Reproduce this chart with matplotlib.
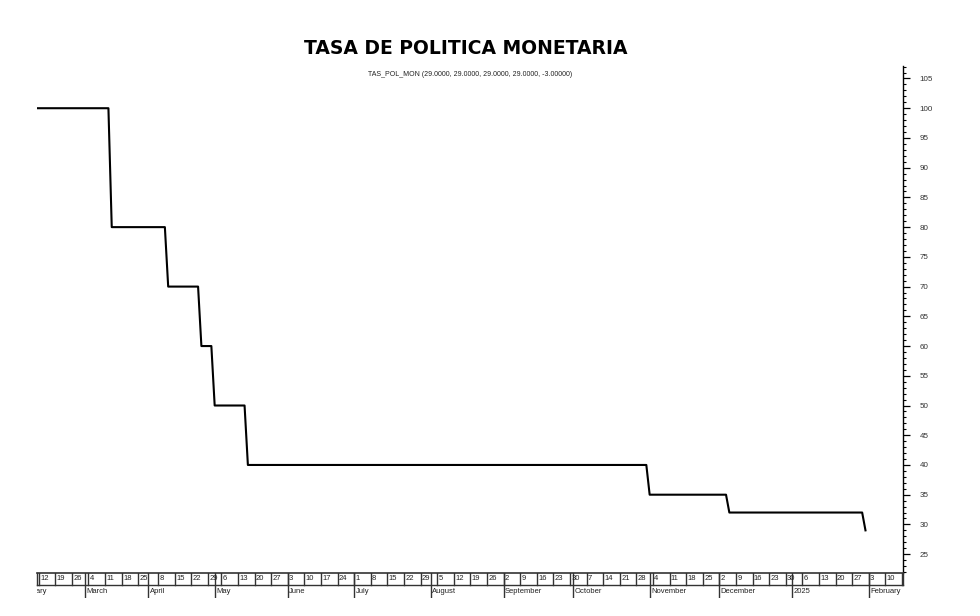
import numpy as np
import pandas as pd
import matplotlib
matplotlib.use("Agg")
import matplotlib.pyplot as plt
from matplotlib.ticker import MultipleLocator

# policy rate, vertices of the daily series (date, value)
rate_dates = ["2024-02-01", "2024-03-12", "2024-03-13", "2024-04-10", "2024-04-11",
              "2024-04-24", "2024-04-25", "2024-04-30", "2024-05-02", "2024-05-15",
              "2024-05-16", "2024-10-31", "2024-11-01", "2024-12-04", "2024-12-05",
              "2025-01-30", "2025-01-31"]
rate_values = [100, 100, 80, 80, 70,
               70, 60, 60, 50, 50,
               40, 40, 35, 35, 32,
               32, 29]

# days with no record in the series (axis skips them)
missing_days = ["2024-03-28", "2024-03-29", "2024-04-01", "2024-04-02", "2024-05-01"]

month_names = {1: "2025", 2: "February", 3: "March", 4: "April", 5: "May", 6: "June",
               7: "July", 8: "August", 9: "September", 10: "October",
               11: "November", 12: "December"}

title = "TASA DE POLITICA MONETARIA"
subtitle = "TAS_POL_MON (29.0000, 29.0000, 29.0000, 29.0000, -3.00000)"

# trading-day axis
days = pd.bdate_range("2024-02-01", "2025-02-28")
days = days[~days.isin(pd.to_datetime(missing_days))]
pos = pd.Series(np.arange(len(days)), index=days)
origin = pos[pd.Timestamp("2024-02-12")]
xl, xr = origin - 0.51, origin + 260.3

x = pos[pd.to_datetime(rate_dates)].values

W, H = 980, 616
fig = plt.figure(figsize=(W / 100, H / 100), dpi=100)
ax = fig.add_axes([37 / W, 1 - 573 / H, (903 - 37) / W, (573 - 66) / H])
strip = fig.add_axes([37 / W, 1 - 598 / H, (903 - 37) / W, 25 / H])

ax.plot(x, rate_values, color="black", lw=1.5)
ax.set_xlim(xl, xr)
ax.set_ylim(21.83, 107.1)

for s in ["left", "top", "bottom"]:
    ax.spines[s].set_visible(False)
ax.spines["right"].set_linewidth(1.0)
ax.set_xticks([])
ax.yaxis.tick_right()
ax.yaxis.set_major_locator(MultipleLocator(5))
ax.yaxis.set_minor_locator(MultipleLocator(1))
ax.set_yticks(np.arange(25, 106, 5))
ax.tick_params(axis="y", which="major", length=5, width=0.9, pad=7,
               labelsize=5.8, labelcolor="#333333")
ax.tick_params(axis="y", which="minor", length=2.5, width=0.8)
for lab in ax.get_yticklabels():
    lab.set_family("Liberation Sans")

# date strip: weekly boxes + month row
strip.set_xlim(xl, xr)
strip.set_ylim(0, 1)
strip.axis("off")
lc = "#333333"
strip.plot([xl, xr], [1, 1], color=lc, lw=1.2, clip_on=False)
strip.plot([xl, xr], [0.52, 0.52], color=lc, lw=1.0, clip_on=False)
strip.plot([xr, xr], [0.52, 1], color=lc, lw=1.0, clip_on=False)
strip.plot([xl, xl], [0.52, 1], color=lc, lw=1.0, clip_on=False)

for d, p in pos.items():
    if p < xl or p > xr:
        continue
    if d.weekday() == 0:
        strip.plot([p, p], [0.52, 1], color=lc, lw=1.0)
        strip.text(p + 0.4, 0.76, str(d.day), ha="left", va="center",
                   fontsize=5.5, color="#222222", family="Liberation Sans",
                   clip_on=True)

month_first = pos.groupby([pos.index.year, pos.index.month]).min()
for (yr, mo), p in month_first.items():
    if p > xr:
        continue
    if p >= xl:
        strip.plot([p, p], [0, 1], color=lc, lw=1.0)
    t = strip.text(p + 0.4, 0.26, month_names[mo], ha="left", va="center",
                   fontsize=5.5, color="#222222", family="Liberation Sans",
                   clip_on=True)
    t.set_clip_box(strip.bbox)

fig.text(466 / W, 1 - 49 / H, title, ha="center", va="center",
         fontsize=13.5, fontweight="bold", family="DejaVu Sans", color="black")
fig.text(470 / W, 1 - 75 / H, subtitle, ha="center", va="center",
         fontsize=5, family="Liberation Sans", color="#222222")

fig.savefig("out.png", dpi=100)
